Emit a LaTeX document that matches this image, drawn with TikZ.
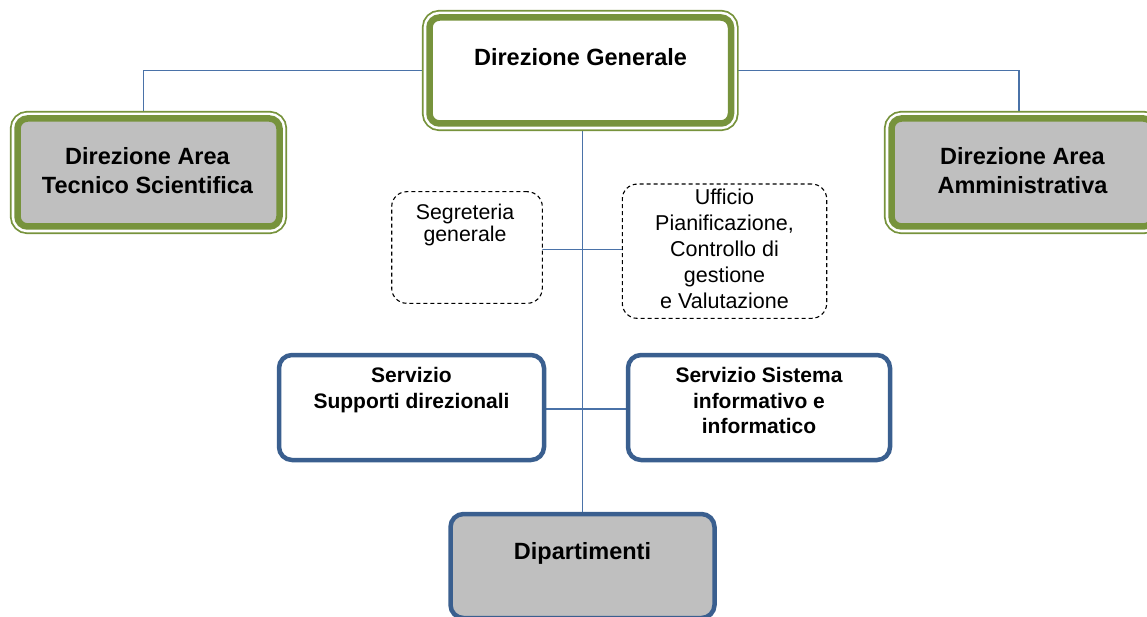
\documentclass[tikz,border=0pt]{standalone}
\usepackage{fontspec}
\setmainfont{Liberation Sans}
\usetikzlibrary{backgrounds}

\definecolor{olive}{HTML}{77933C}
\definecolor{navy}{HTML}{3A5F8F}
\definecolor{wire}{HTML}{4A72A8}
\definecolor{panel}{HTML}{BFBFBF}

% centred block of lines whose baseline is the first line's
\newcommand\rows[1]{\begin{tabular}[t]{@{}c@{}}#1\end{tabular}}
\renewcommand\arraystretch{1}

\begin{document}
\begin{tikzpicture}[x=1pt,y=-1pt,
  greenbox/.style={draw=olive, line width=6.5pt, rounded corners=10pt,
    inner sep=0pt, outer sep=0pt,
    preaction={draw=olive, line width=15.2pt},
    preaction={draw=white, line width=11.6pt}},
  bluebox/.style={draw=navy, line width=4.5pt, rounded corners=13pt,
    inner sep=0pt, outer sep=0pt, fill=white},
  dashbox/.style={draw=black, line width=1.1pt, dash pattern=on 4pt off 3pt,
    rounded corners=15pt, inner sep=0pt, outer sep=0pt, fill=white},
  boxtext/.style={anchor=base, inner sep=0pt},
  bigbold/.style={font=\fontsize{23.5pt}{28.7pt}\selectfont\bfseries},
  midbold/.style={font=\fontsize{21pt}{25.5pt}\selectfont\bfseries},
  wire/.style={draw=wire, line width=1.3pt}]

\useasboundingbox (0,0) rectangle (1147,617);
\clip (0,0) rectangle (1147,617);

% top level
\node[greenbox, fill=white, minimum width=301.5pt, minimum height=106pt] (dg) at (580.25,70.5) {};
\node[greenbox, fill=panel, minimum width=262pt, minimum height=108pt] (dts) at (148.5,172.5) {};
\node[greenbox, fill=panel, minimum width=262pt, minimum height=108pt] (dam) at (1022.5,172.5) {};

% staff offices
\node[dashbox, minimum width=150.6pt, minimum height=111.6pt] (seg) at (467,247.5) {};
\node[dashbox, minimum width=204.4pt, minimum height=134.3pt] (uff) at (724.5,251.2) {};

% services
\node[bluebox, minimum width=265pt, minimum height=105pt] (sup) at (411.5,407.5) {};
\node[bluebox, minimum width=262pt, minimum height=105pt] (sis) at (759,407.5) {};
\node[bluebox, fill=panel, minimum width=264pt, minimum height=104pt] (dip) at (582.5,566) {};

% labels
\node[boxtext, bigbold] (dg-t) at (580.5,65.5) {Direzione Generale};
\node[boxtext, bigbold] (dts-t) at (147.5,164.5) {\rows{Direzione Area\\Tecnico Scientifica}};
\node[boxtext, bigbold] (dam-t) at (1022.5,164.5) {\rows{Direzione Area\\Amministrativa}};
\node[boxtext, font=\fontsize{21.3pt}{22.5pt}\selectfont] (seg-t) at (465,219.3)
  {\rows{Segreteria\\generale}};
\node[boxtext, font=\fontsize{21.5pt}{25.8pt}\selectfont] (uff-t) at (724.5,205)
  {\rows{Ufficio\\Pianificazione,\\Controllo di\\gestione\\e Valutazione}};
\node[boxtext, midbold] (sup-t) at (411.5,382.5) {\rows{Servizio\\Supporti direzionali}};
\node[boxtext, midbold] (sis-t) at (759,382.5) {\rows{Servizio Sistema\\informativo e\\informatico}};
\node[boxtext, bigbold] (dip-t) at (582.5,559.5) {Dipartimenti};

% connectors, behind the boxes
\begin{pgfonlayer}{background}
  \draw[wire] (dg.west) -| ([xshift=-5pt]dts.north);
  \draw[wire] (dg.east) -| ([xshift=-3.5pt]dam.north);
  \draw[wire] (dip.north |- dg.south) -- (dip.north);
  \draw[wire] ([yshift=-1.8pt]seg.east) -- ([yshift=-1.8pt]seg.east -| uff.west);
  \draw[wire] ([yshift=-1.5pt]sup.east) -- ([yshift=-1.5pt]sup.east -| sis.west);
\end{pgfonlayer}
\end{tikzpicture}
\end{document}
